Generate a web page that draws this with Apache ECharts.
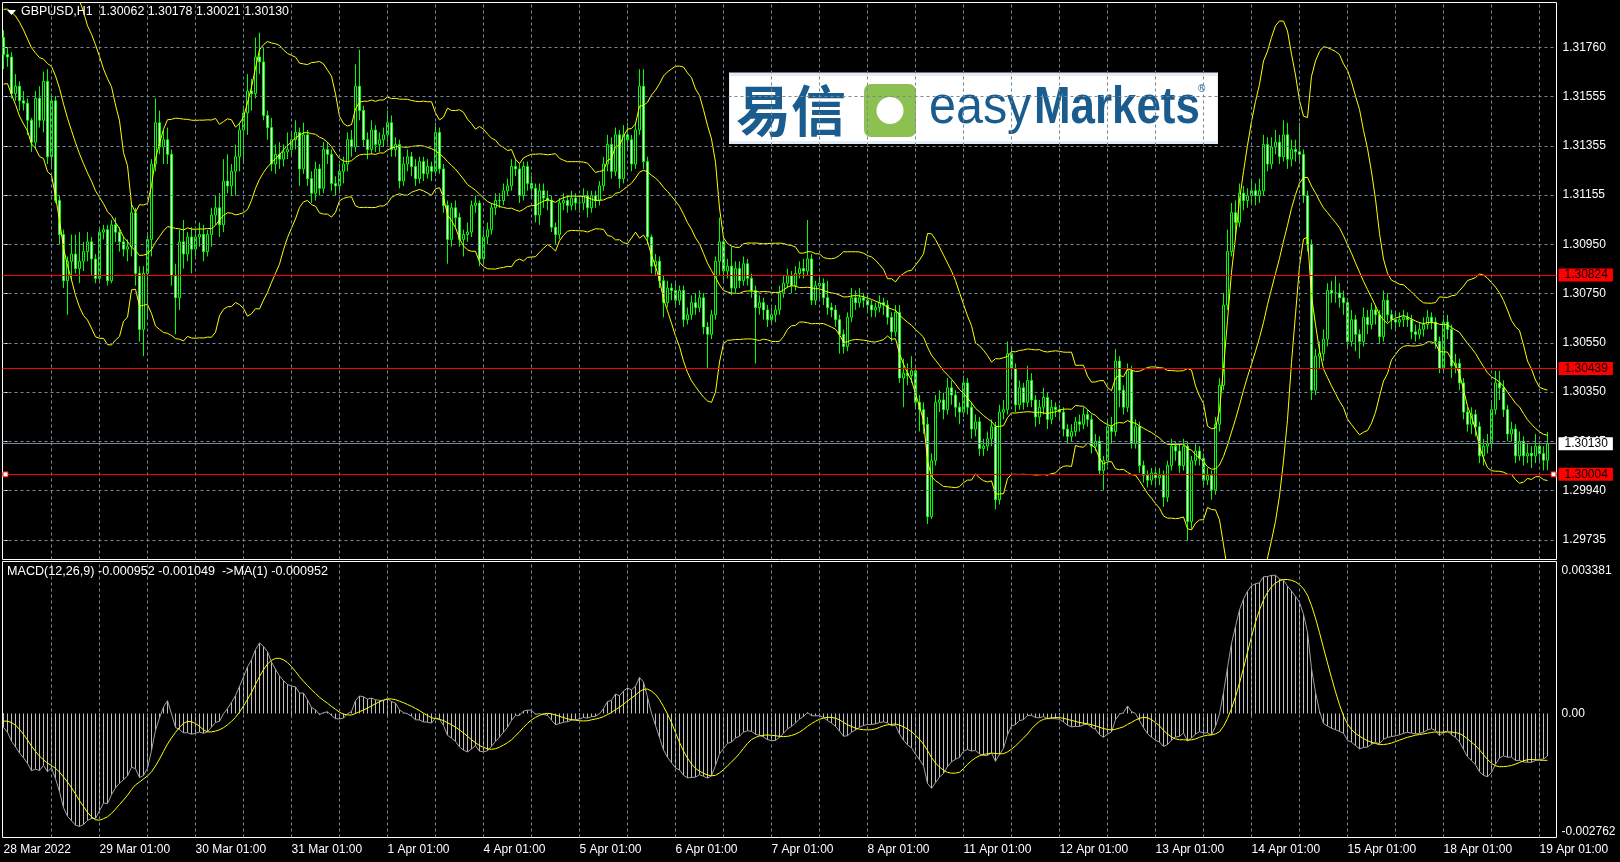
<!DOCTYPE html>
<html><head><meta charset="utf-8">
<script src="https://cdn.jsdelivr.net/npm/echarts/dist/echarts.min.js"></script>
<style>html,body{margin:0;padding:0;background:#000;overflow:hidden}#c{width:1620px;height:862px}</style>
</head><body><div id="c"></div>
<script>
const symbolTitle = 'GBPUSD,H1  1.30062 1.30178 1.30021 1.30130';
const macdTitle = 'MACD(12,26,9) -0.000952 -0.001049  ->MA(1) -0.000952';
const xTickBars = [0,24,48,72,96,120,144,168,192,216,240,264,288,312,336,360,384];
const xTickLabels = ['28 Mar 2022','29 Mar 01:00','30 Mar 01:00','31 Mar 01:00','1 Apr 01:00','4 Apr 01:00','5 Apr 01:00','6 Apr 01:00','7 Apr 01:00','8 Apr 01:00','11 Apr 01:00','12 Apr 01:00','13 Apr 01:00','14 Apr 01:00','15 Apr 01:00','18 Apr 01:00','19 Apr 01:00'];
const xGridBars = [12,24,36,48,60,72,84,96,108,120,132,144,156,168,180,192,204,216,228,240,252,264,276,288,300,312,324,336,348,360,372,384];
const priceTickValues = [1.31760,1.315575,1.31355,1.311525,1.30950,1.307475,1.30545,1.303425,1.30140,1.299375,1.29735];
const priceTickLabels = ['1.31760','1.31555','1.31355','1.31155','1.30950','1.30750','1.30550','1.30350','1.30145','1.29940','1.29735'];
const priceRange = [1.296539, 1.319442];
const redLevels = [1.30824, 1.30439, 1.30004];
const lastPrice = 1.30130;
const macdRange = [-0.002762, 0.003381];
const macdTickValues = [0.003381, 0, -0.002762];
const macdTickLabels = ['0.003381', '0.00', '-0.002762'];
// closes before the first visible bar (not drawn), estimated from band and MACD levels at the left edge
const warmupCloses = [1.3192,1.3196,1.3199,1.3195,1.3190,1.3186,1.3189,1.3194,1.3198,1.3202,1.3199,1.3195,1.3197,1.3200,
1.3204,1.3214,1.3220,1.3210,1.3198,1.3187,1.3177,1.3171,1.3181,1.3193,1.3205,1.3216,1.3221,1.3209,1.3197,1.3185,1.3174,1.3168,1.3178,1.3190,1.3201,1.3210,1.3204,1.3193,1.3185,1.3179];
// hourly candles [open, close, low, high], 28 Mar 01:00 .. 19 Apr 03:00
const candles = [
[1.3180,1.3173,1.3167,1.3183],[1.3173,1.3172,1.3168,1.3176],[1.3172,1.3157,1.3155,1.3174],[1.3157,1.3160,1.3154,1.3165],
[1.3160,1.3154,1.3150,1.3162],[1.3154,1.3153,1.3150,1.3158],[1.3153,1.3146,1.3140,1.3155],[1.3146,1.3137,1.3133,1.3147],
[1.3137,1.3155,1.3134,1.3158],[1.3155,1.3146,1.3143,1.3160],[1.3146,1.3162,1.3141,1.3166],[1.3162,1.3131,1.3128,1.3167],
[1.3131,1.3154,1.3126,1.3157],[1.3154,1.3113,1.3112,1.3156],[1.3113,1.3099,1.3095,1.3115],[1.3099,1.3080,1.3077,1.3101],
[1.3080,1.3088,1.3066,1.3090],[1.3088,1.3091,1.3080,1.3099],[1.3091,1.3085,1.3083,1.3099],[1.3085,1.3088,1.3079,1.3100],
[1.3088,1.3092,1.3084,1.3096],[1.3092,1.3096,1.3088,1.3100],[1.3096,1.3089,1.3082,1.3098],[1.3089,1.3081,1.3079,1.3091],
[1.3081,1.3100,1.3080,1.3102],[1.3100,1.3101,1.3097,1.3103],[1.3101,1.3080,1.3078,1.3103],[1.3080,1.3103,1.3079,1.3105],
[1.3103,1.3100,1.3096,1.3106],[1.3100,1.3096,1.3092,1.3102],[1.3096,1.3093,1.3090,1.3098],[1.3093,1.3094,1.3088,1.3097],
[1.3094,1.3108,1.3090,1.3112],[1.3108,1.3083,1.3078,1.3110],[1.3083,1.3060,1.3055,1.3086],[1.3060,1.3083,1.3049,1.3086],
[1.3083,1.3097,1.3064,1.3100],[1.3097,1.3128,1.3090,1.3130],[1.3128,1.3145,1.3125,1.3155],[1.3145,1.3135,1.3132,1.3150],
[1.3135,1.3138,1.3128,1.3142],[1.3138,1.3132,1.3128,1.3143],[1.3132,1.3082,1.3078,1.3134],[1.3082,1.3073,1.3058,1.3087],
[1.3073,1.3096,1.3068,1.3101],[1.3096,1.3091,1.3085,1.3105],[1.3091,1.3098,1.3088,1.3100],[1.3098,1.3093,1.3083,1.3102],
[1.3093,1.3098,1.3090,1.3101],[1.3098,1.3099,1.3094,1.3104],[1.3099,1.3092,1.3088,1.3103],[1.3092,1.3099,1.3090,1.3101],
[1.3099,1.3107,1.3094,1.3110],[1.3107,1.3110,1.3103,1.3115],[1.3110,1.3103,1.3098,1.3116],[1.3103,1.3121,1.3100,1.3130],
[1.3121,1.3119,1.3116,1.3132],[1.3119,1.3125,1.3115,1.3128],[1.3125,1.3131,1.3115,1.3136],[1.3131,1.3142,1.3125,1.3145],
[1.3142,1.3149,1.3128,1.3152],[1.3149,1.3158,1.3140,1.3165],[1.3158,1.3157,1.3150,1.3163],[1.3157,1.3172,1.3155,1.3180],
[1.3172,1.3170,1.3165,1.3182],[1.3170,1.3148,1.3146,1.3176],[1.3148,1.3143,1.3138,1.3150],[1.3143,1.3128,1.3125,1.3147],
[1.3128,1.3132,1.3124,1.3136],[1.3132,1.3130,1.3126,1.3137],[1.3130,1.3133,1.3127,1.3136],[1.3133,1.3134,1.3130,1.3141],
[1.3134,1.3138,1.3131,1.3141],[1.3138,1.3141,1.3134,1.3146],[1.3141,1.3126,1.3119,1.3143],[1.3126,1.3140,1.3124,1.3145],
[1.3140,1.3122,1.3119,1.3142],[1.3122,1.3116,1.3112,1.3125],[1.3116,1.3126,1.3113,1.3129],[1.3126,1.3118,1.3115,1.3128],
[1.3118,1.3134,1.3116,1.3137],[1.3134,1.3132,1.3128,1.3137],[1.3132,1.3120,1.3117,1.3134],[1.3120,1.3119,1.3115,1.3123],
[1.3119,1.3125,1.3116,1.3128],[1.3125,1.3128,1.3120,1.3131],[1.3128,1.3138,1.3125,1.3141],[1.3138,1.3135,1.3131,1.3142],
[1.3135,1.3160,1.3133,1.3169],[1.3160,1.3150,1.3146,1.3175],[1.3150,1.3138,1.3135,1.3152],[1.3138,1.3134,1.3130,1.3141],
[1.3134,1.3142,1.3132,1.3146],[1.3142,1.3136,1.3133,1.3144],[1.3136,1.3138,1.3133,1.3141],[1.3138,1.3140,1.3135,1.3143],
[1.3140,1.3145,1.3137,1.3150],[1.3145,1.3134,1.3131,1.3148],[1.3134,1.3136,1.3131,1.3139],[1.3136,1.3121,1.3118,1.3138],
[1.3121,1.3128,1.3119,1.3131],[1.3128,1.3131,1.3125,1.3134],[1.3131,1.3127,1.3123,1.3133],[1.3127,1.3122,1.3119,1.3130],
[1.3122,1.3129,1.3120,1.3131],[1.3129,1.3124,1.3121,1.3131],[1.3124,1.3127,1.3122,1.3130],[1.3127,1.3125,1.3121,1.3129],
[1.3125,1.3141,1.3123,1.3145],[1.3141,1.3126,1.3124,1.3143],[1.3126,1.3111,1.3108,1.3128],[1.3111,1.3097,1.3087,1.3113],
[1.3097,1.3110,1.3094,1.3112],[1.3110,1.3106,1.3102,1.3113],[1.3106,1.3097,1.3094,1.3108],[1.3097,1.3099,1.3090,1.3101],
[1.3099,1.3100,1.3096,1.3104],[1.3100,1.3111,1.3098,1.3113],[1.3111,1.3112,1.3108,1.3115],[1.3112,1.3089,1.3086,1.3113],
[1.3089,1.3098,1.3087,1.3101],[1.3098,1.3101,1.3095,1.3104],[1.3101,1.3110,1.3099,1.3112],[1.3110,1.3113,1.3107,1.3116],
[1.3113,1.3113,1.3110,1.3116],[1.3113,1.3117,1.3111,1.3120],[1.3117,1.3119,1.3115,1.3122],[1.3119,1.3127,1.3117,1.3130],
[1.3127,1.3126,1.3123,1.3130],[1.3126,1.3115,1.3112,1.3128],[1.3115,1.3127,1.3113,1.3129],[1.3127,1.3120,1.3117,1.3129],
[1.3120,1.3118,1.3114,1.3123],[1.3118,1.3107,1.3104,1.3120],[1.3107,1.3117,1.3103,1.3120],[1.3117,1.3114,1.3110,1.3120],
[1.3114,1.3113,1.3109,1.3117],[1.3113,1.3102,1.3100,1.3115],[1.3102,1.3099,1.3095,1.3104],[1.3099,1.3112,1.3097,1.3114],
[1.3112,1.3113,1.3109,1.3116],[1.3113,1.3111,1.3108,1.3115],[1.3111,1.3114,1.3109,1.3117],[1.3114,1.3112,1.3109,1.3116],
[1.3112,1.3112,1.3108,1.3115],[1.3112,1.3115,1.3109,1.3118],[1.3115,1.3110,1.3106,1.3117],[1.3110,1.3115,1.3108,1.3117],
[1.3115,1.3113,1.3110,1.3117],[1.3113,1.3119,1.3111,1.3121],[1.3119,1.3128,1.3117,1.3131],[1.3128,1.3136,1.3125,1.3140],
[1.3136,1.3125,1.3122,1.3139],[1.3125,1.3140,1.3123,1.3143],[1.3140,1.3122,1.3118,1.3142],[1.3122,1.3140,1.3120,1.3144],
[1.3140,1.3138,1.3134,1.3145],[1.3138,1.3128,1.3125,1.3140],[1.3128,1.3142,1.3126,1.3145],[1.3142,1.3160,1.3140,1.3167],
[1.3160,1.3129,1.3126,1.3167],[1.3129,1.3098,1.3095,1.3131],[1.3098,1.3086,1.3083,1.3099],[1.3086,1.3088,1.3082,1.3091],
[1.3088,1.3080,1.3077,1.3090],[1.3080,1.3071,1.3065,1.3082],[1.3071,1.3077,1.3069,1.3080],[1.3077,1.3076,1.3072,1.3079],
[1.3076,1.3072,1.3069,1.3079],[1.3072,1.3076,1.3070,1.3078],[1.3076,1.3064,1.3061,1.3078],[1.3064,1.3066,1.3062,1.3069],
[1.3066,1.3071,1.3064,1.3074],[1.3071,1.3069,1.3066,1.3075],[1.3069,1.3073,1.3067,1.3076],[1.3073,1.3061,1.3058,1.3075],
[1.3061,1.3058,1.3044,1.3063],[1.3058,1.3066,1.3056,1.3068],[1.3066,1.3088,1.3064,1.3090],[1.3088,1.3096,1.3082,1.3106],
[1.3096,1.3084,1.3080,1.3098],[1.3084,1.3086,1.3081,1.3089],[1.3086,1.3077,1.3074,1.3094],[1.3077,1.3085,1.3075,1.3088],
[1.3085,1.3080,1.3077,1.3088],[1.3080,1.3087,1.3078,1.3090],[1.3087,1.3081,1.3078,1.3089],[1.3081,1.3076,1.3073,1.3083],
[1.3076,1.3069,1.3046,1.3078],[1.3069,1.3071,1.3066,1.3074],[1.3071,1.3068,1.3064,1.3073],[1.3068,1.3064,1.3061,1.3070],
[1.3064,1.3066,1.3062,1.3069],[1.3066,1.3068,1.3063,1.3070],[1.3068,1.3075,1.3066,1.3078],[1.3075,1.3079,1.3073,1.3082],
[1.3079,1.3082,1.3077,1.3085],[1.3082,1.3078,1.3075,1.3084],[1.3078,1.3083,1.3076,1.3086],[1.3083,1.3085,1.3081,1.3088],
[1.3085,1.3084,1.3081,1.3089],[1.3084,1.3089,1.3082,1.3105],[1.3089,1.3072,1.3070,1.3091],[1.3072,1.3078,1.3070,1.3080],
[1.3078,1.3079,1.3072,1.3082],[1.3079,1.3073,1.3070,1.3081],[1.3073,1.3069,1.3066,1.3080],[1.3069,1.3068,1.3065,1.3071],
[1.3068,1.3064,1.3061,1.3070],[1.3064,1.3058,1.3050,1.3066],[1.3058,1.3053,1.3050,1.3060],[1.3053,1.3065,1.3051,1.3067],
[1.3065,1.3073,1.3063,1.3077],[1.3073,1.3071,1.3068,1.3076],[1.3071,1.3073,1.3069,1.3077],[1.3073,1.3072,1.3069,1.3075],
[1.3072,1.3070,1.3067,1.3075],[1.3070,1.3068,1.3065,1.3072],[1.3068,1.3069,1.3065,1.3071],[1.3069,1.3071,1.3067,1.3074],
[1.3071,1.3070,1.3066,1.3073],[1.3070,1.3065,1.3062,1.3072],[1.3065,1.3059,1.3055,1.3067],[1.3059,1.3067,1.3057,1.3070],
[1.3067,1.3040,1.3038,1.3070],[1.3040,1.3042,1.3028,1.3048],[1.3042,1.3041,1.3037,1.3046],[1.3041,1.3043,1.3038,1.3049],
[1.3043,1.3030,1.3027,1.3045],[1.3030,1.3027,1.3018,1.3033],[1.3027,1.3021,1.3017,1.3030],[1.3021,1.2983,1.2980,1.3024],
[1.2983,1.3006,1.2982,1.3009],[1.3006,1.3030,1.3004,1.3033],[1.3030,1.3031,1.3026,1.3035],[1.3031,1.3027,1.3023,1.3034],
[1.3027,1.3036,1.3025,1.3040],[1.3036,1.3033,1.3029,1.3039],[1.3033,1.3028,1.3024,1.3035],[1.3028,1.3026,1.3021,1.3030],
[1.3026,1.3038,1.3024,1.3041],[1.3038,1.3028,1.3025,1.3040],[1.3028,1.3019,1.3015,1.3030],[1.3019,1.3022,1.3016,1.3025],
[1.3022,1.3011,1.3008,1.3024],[1.3011,1.3012,1.3008,1.3015],[1.3012,1.3015,1.3010,1.3018],[1.3015,1.3020,1.3012,1.3023],
[1.3020,1.2990,1.2986,1.3022],[1.2990,1.3026,1.2988,1.3029],[1.3026,1.3027,1.3023,1.3031],[1.3027,1.3050,1.3025,1.3055],
[1.3050,1.3044,1.3040,1.3053],[1.3044,1.3029,1.3026,1.3046],[1.3029,1.3036,1.3027,1.3039],[1.3036,1.3030,1.3027,1.3038],
[1.3030,1.3039,1.3028,1.3045],[1.3039,1.3031,1.3028,1.3042],[1.3031,1.3024,1.3020,1.3033],[1.3024,1.3028,1.3021,1.3031],
[1.3028,1.3032,1.3025,1.3036],[1.3032,1.3023,1.3019,1.3034],[1.3023,1.3028,1.3021,1.3031],[1.3028,1.3027,1.3024,1.3030],
[1.3027,1.3026,1.3023,1.3029],[1.3026,1.3019,1.3016,1.3028],[1.3019,1.3016,1.3013,1.3021],[1.3016,1.3018,1.3014,1.3021],
[1.3018,1.3022,1.3016,1.3024],[1.3022,1.3021,1.3018,1.3025],[1.3021,1.3025,1.3019,1.3028],[1.3025,1.3023,1.3020,1.3027],
[1.3023,1.3012,1.3009,1.3025],[1.3012,1.3014,1.3010,1.3017],[1.3014,1.3002,1.3000,1.3016],[1.3002,1.3006,1.2994,1.3008],
[1.3006,1.3020,1.3004,1.3023],[1.3020,1.3018,1.3013,1.3024],[1.3018,1.3047,1.3016,1.3052],[1.3047,1.3035,1.3028,1.3049],
[1.3035,1.3028,1.3025,1.3037],[1.3028,1.3043,1.3026,1.3046],[1.3043,1.3013,1.3011,1.3045],[1.3013,1.3020,1.3011,1.3023],
[1.3020,1.3004,1.3001,1.3022],[1.3004,1.3000,1.2997,1.3006],[1.3000,1.2998,1.2995,1.3002],[1.2998,1.3001,1.2996,1.3003],
[1.3001,1.2999,1.2996,1.3003],[1.2999,1.3000,1.2996,1.3003],[1.3000,1.2991,1.2987,1.3002],[1.2991,1.3004,1.2989,1.3006],
[1.3004,1.3012,1.3002,1.3015],[1.3012,1.3010,1.3006,1.3014],[1.3010,1.3004,1.3001,1.3013],[1.3004,1.3012,1.3002,1.3015],
[1.3012,1.2981,1.2973,1.3014],[1.2981,1.3006,1.2978,1.3008],[1.3006,1.3010,1.3004,1.3013],[1.3010,1.3007,1.3004,1.3012],
[1.3007,1.2998,1.2995,1.3009],[1.2998,1.3000,1.2996,1.3003],[1.3000,1.2994,1.2990,1.3002],[1.2994,1.3021,1.2992,1.3024],
[1.3021,1.3037,1.3018,1.3040],[1.3037,1.3070,1.3035,1.3075],[1.3070,1.3092,1.3068,1.3101],[1.3092,1.3108,1.3090,1.3112],
[1.3108,1.3104,1.3097,1.3113],[1.3104,1.3116,1.3102,1.3120],[1.3116,1.3113,1.3109,1.3119],[1.3113,1.3115,1.3110,1.3118],
[1.3115,1.3117,1.3112,1.3121],[1.3117,1.3115,1.3111,1.3120],[1.3115,1.3117,1.3112,1.3122],[1.3117,1.3136,1.3115,1.3140],
[1.3136,1.3128,1.3125,1.3139],[1.3128,1.3135,1.3126,1.3139],[1.3135,1.3137,1.3132,1.3142],[1.3137,1.3131,1.3128,1.3140],
[1.3131,1.3140,1.3129,1.3146],[1.3140,1.3130,1.3126,1.3145],[1.3130,1.3134,1.3127,1.3138],[1.3134,1.3133,1.3129,1.3138],
[1.3133,1.3132,1.3128,1.3145],[1.3132,1.3115,1.3112,1.3134],[1.3115,1.3095,1.3092,1.3117],[1.3095,1.3035,1.3031,1.3097],
[1.3035,1.3049,1.3033,1.3052],[1.3049,1.3050,1.3044,1.3055],[1.3050,1.3056,1.3047,1.3060],[1.3056,1.3076,1.3053,1.3079],
[1.3076,1.3075,1.3071,1.3080],[1.3075,1.3075,1.3071,1.3082],[1.3075,1.3073,1.3069,1.3079],[1.3073,1.3071,1.3066,1.3076],
[1.3071,1.3055,1.3052,1.3073],[1.3055,1.3064,1.3053,1.3068],[1.3064,1.3058,1.3051,1.3066],[1.3058,1.3055,1.3048,1.3060],
[1.3055,1.3065,1.3053,1.3069],[1.3065,1.3062,1.3058,1.3068],[1.3062,1.3068,1.3060,1.3071],[1.3068,1.3066,1.3062,1.3070],
[1.3066,1.3057,1.3054,1.3068],[1.3057,1.3072,1.3055,1.3076],[1.3072,1.3066,1.3063,1.3075],[1.3066,1.3064,1.3060,1.3068],
[1.3064,1.3063,1.3060,1.3067],[1.3063,1.3064,1.3061,1.3067],[1.3064,1.3065,1.3061,1.3068],[1.3065,1.3064,1.3061,1.3067],
[1.3064,1.3059,1.3056,1.3066],[1.3059,1.3058,1.3055,1.3062],[1.3058,1.3060,1.3056,1.3063],[1.3060,1.3062,1.3057,1.3065],
[1.3062,1.3065,1.3060,1.3068],[1.3065,1.3063,1.3060,1.3067],[1.3063,1.3055,1.3052,1.3065],[1.3055,1.3044,1.3042,1.3057],
[1.3044,1.3063,1.3042,1.3066],[1.3063,1.3060,1.3056,1.3066],[1.3060,1.3045,1.3040,1.3062],[1.3045,1.3046,1.3042,1.3050],
[1.3046,1.3038,1.3035,1.3048],[1.3038,1.3026,1.3023,1.3040],[1.3026,1.3021,1.3018,1.3028],[1.3021,1.3025,1.3017,1.3028],
[1.3025,1.3020,1.3016,1.3027],[1.3020,1.3008,1.3005,1.3022],[1.3008,1.3012,1.3004,1.3015],[1.3012,1.3013,1.3009,1.3017],
[1.3013,1.3027,1.3011,1.3031],[1.3027,1.3038,1.3025,1.3043],[1.3038,1.3036,1.3031,1.3043],[1.3036,1.3027,1.3024,1.3039],
[1.3027,1.3017,1.3014,1.3029],[1.3017,1.3019,1.3014,1.3022],[1.3019,1.3008,1.3005,1.3021],[1.3008,1.3014,1.3006,1.3018],
[1.3014,1.3008,1.3004,1.3016],[1.3008,1.3009,1.3005,1.3013],[1.3009,1.3008,1.3003,1.3012],[1.3008,1.3012,1.3005,1.3017],
[1.3012,1.3009,1.3005,1.3014],[1.3009,1.30062,1.3002,1.3012],[1.30062,1.30130,1.30021,1.30178]
];

const FONT = '"Liberation Sans", Arial, sans-serif';
function nearestIndex(arr, v){ let b = 0; for (let i = 1; i < arr.length; i++) if (Math.abs(arr[i]-v) < Math.abs(arr[b]-v)) b = i; return b; }

// indicators computed from closes (Bollinger 20,2 and MACD 12,26,9)
const W = warmupCloses.length;
const allC = warmupCloses.concat(candles.map(c => c[1]));
function ema(a, n){ const k = 2/(n+1); const out = []; let e = a[0]; for (let i = 0; i < a.length; i++){ e = i === 0 ? a[0] : a[i]*k + e*(1-k); out.push(e);} return out; }
const e12 = ema(allC, 12), e26 = ema(allC, 26);
const macdAll = allC.map((v, i) => e12[i] - e26[i]);
const bbMid = [], bbUp = [], bbLo = [], macdBars = [], macdLine = [], sigLine = [];
for (let i = W; i < allC.length; i++){
  let s = 0; for (let j = i-19; j <= i; j++) s += allC[j];
  const m = s/20; let v = 0; for (let j = i-19; j <= i; j++) v += (allC[j]-m)*(allC[j]-m);
  const sd = Math.sqrt(v/20);
  bbMid.push([i-W, m]); bbUp.push([i-W, m+2*sd]); bbLo.push([i-W, m-2*sd]);
  let ss = 0; for (let j = i-8; j <= i; j++) ss += macdAll[j];
  macdBars.push([i-W, macdAll[i]]); macdLine.push([i-W, macdAll[i]]); sigLine.push([i-W, ss/9]);
}
const ohlc = candles.map((c, i) => [i, c[0], c[1], c[2], c[3]]);

const gridDash = {color: '#778899', type: [3, 3], width: 1};
const xMin = -0.25, xMax = 388.25;

const chart = echarts.init(document.getElementById('c'), null, {renderer: 'canvas'});
const option = {
  backgroundColor: '#000',
  animation: false,
  textStyle: {fontFamily: FONT},
  grid: [
    {left: 2.5, top: 2.5, width: 1554, height: 557, show: true, borderColor: '#ffffff', borderWidth: 1},
    {left: 2.5, top: 561.5, width: 1554, height: 276, show: true, borderColor: '#ffffff', borderWidth: 1}
  ],
  xAxis: [
    {type: 'value', gridIndex: 0, min: xMin, max: xMax, show: false},
    {type: 'value', gridIndex: 1, min: xMin, max: xMax, position: 'bottom',
     axisLine: {show: false}, splitLine: {show: false},
     axisTick: {show: true, customValues: xTickBars, length: 4, lineStyle: {color: '#ffffff'}},
     axisLabel: {show: true, customValues: xTickBars, align: 'left', color: '#ffffff', fontSize: 12, fontFamily: FONT, margin: 6,
       formatter: v => xTickLabels[nearestIndex(xTickBars, v)]}}
  ],
  yAxis: [
    {type: 'value', gridIndex: 0, position: 'right', min: priceRange[0], max: priceRange[1],
     axisLine: {show: false}, splitLine: {show: false},
     axisTick: {show: true, customValues: priceTickValues, length: 4, lineStyle: {color: '#ffffff'}},
     axisLabel: {customValues: priceTickValues, color: '#ffffff', fontSize: 12, fontFamily: FONT, margin: 6,
       formatter: v => priceTickLabels[nearestIndex(priceTickValues, v)]}},
    {type: 'value', gridIndex: 1, position: 'right', min: macdRange[0], max: macdRange[1],
     axisLine: {show: false}, splitLine: {show: false}, axisTick: {show: false},
     axisLabel: {customValues: macdTickValues, color: '#ffffff', fontSize: 12, fontFamily: FONT, margin: 5,
       formatter: v => { const i = nearestIndex(macdTickValues, v); const s = macdTickLabels[i];
         return i === 0 ? '{t|' + s + '}' : (i === 2 ? '{b|' + s + '}' : s); },
       rich: {t: {padding: [18, 0, 0, 0], color: '#ffffff', fontSize: 12, fontFamily: FONT},
              b: {padding: [0, 0, 12, 0], color: '#ffffff', fontSize: 12, fontFamily: FONT}}}}
  ],
  series: [
    {name: 'grid0', type: 'line', xAxisIndex: 0, yAxisIndex: 0, data: [], z: 1, silent: true,
     markLine: {symbol: 'none', silent: true, animation: false, precision: 10, label: {show: false}, lineStyle: gridDash,
       data: priceTickValues.map(v => ({yAxis: v})).concat(xGridBars.map(b => ({xAxis: b})))}},
    {name: 'grid1', type: 'line', xAxisIndex: 1, yAxisIndex: 1, data: [], z: 1, silent: true,
     markLine: {symbol: 'none', silent: true, animation: false, precision: 10, label: {show: false}, lineStyle: gridDash,
       data: xGridBars.map(b => ({xAxis: b}))}},
    {name: 'GBPUSD', type: 'candlestick', xAxisIndex: 0, yAxisIndex: 0, data: ohlc, encode: {x: 0, y: [1, 2, 3, 4]},
     barWidth: 2, z: 3, silent: true, clip: true,
     itemStyle: {color: '#000000', color0: '#ffffff', borderColor: '#00ff00', borderColor0: '#00ff00', borderWidth: 1}},
    {name: 'bbUp', type: 'line', xAxisIndex: 0, yAxisIndex: 0, data: bbUp, showSymbol: false, z: 4, silent: true, lineStyle: {color: '#ffff00', width: 1}},
    {name: 'bbMid', type: 'line', xAxisIndex: 0, yAxisIndex: 0, data: bbMid, showSymbol: false, z: 4, silent: true, lineStyle: {color: '#ffff00', width: 1}},
    {name: 'bbLo', type: 'line', xAxisIndex: 0, yAxisIndex: 0, data: bbLo, showSymbol: false, z: 4, silent: true, lineStyle: {color: '#ffff00', width: 1}},
    {name: 'levels', type: 'line', xAxisIndex: 0, yAxisIndex: 0, data: [], z: 5, silent: true,
     markLine: {symbol: 'none', silent: true, animation: false, precision: 10,
       data: redLevels.map(v => ({yAxis: v, lineStyle: {color: '#ff0000', width: 1, type: 'solid'},
         label: {show: true, position: 'end', distance: 2, formatter: v.toFixed(5), backgroundColor: '#ff0000', color: '#000000',
                 padding: [1, 5, 0, 6], fontSize: 12, fontFamily: FONT}}))
         .concat([{yAxis: lastPrice, lineStyle: {color: '#778899', width: 1, type: 'solid'},
           label: {show: true, position: 'end', distance: 2, formatter: lastPrice.toFixed(5), backgroundColor: '#ffffff', color: '#000000',
                   padding: [1, 5, 0, 6], fontSize: 12, fontFamily: FONT}}])},
     markPoint: {silent: true, animation: false, symbol: 'rect', symbolSize: 5, label: {show: false},
       itemStyle: {color: '#ffffff', borderColor: '#ff0000', borderWidth: 1},
       data: [{coord: [0.5, redLevels[2]]}, {coord: [387.5, redLevels[2]]}]}},
    {name: 'MACD', type: 'bar', xAxisIndex: 1, yAxisIndex: 1, data: macdBars, barWidth: 1, z: 2, silent: true,
     itemStyle: {color: '#c0c0c0'}},
    {name: 'MA1', type: 'line', xAxisIndex: 1, yAxisIndex: 1, data: macdLine, showSymbol: false, z: 3, silent: true,
     lineStyle: {color: '#a0a0a0', width: 1}},
    {name: 'Signal', type: 'line', xAxisIndex: 1, yAxisIndex: 1, data: sigLine, showSymbol: false, z: 4, silent: true,
     lineStyle: {color: '#ffff00', width: 1}}
  ],
  graphic: [
    {type: 'polygon', shape: {points: [[7, 10], [16, 10], [11.5, 15]]}, style: {fill: '#ffffff'}, z: 100},
    {type: 'text', left: 21, top: 6, z: 100, style: {text: symbolTitle, fill: '#ffffff', font: '12.4px ' + FONT}},
    {type: 'text', left: 7, top: 565, z: 100, style: {text: macdTitle, fill: '#ffffff', font: '12.6px ' + FONT}},
    {type: 'group', z: 90, children: [
      {type: 'rect', shape: {x: 729, y: 72.5, width: 489, height: 71.5}, style: {fill: '#e3ebf4'}},
      {type: 'rect', shape: {x: 730, y: 76, width: 487, height: 65}, style: {fill: '#ffffff'}},
      {type: 'text', x: 736, y: 110, style: {text: '易信', font: 'bold 55px "Noto Sans CJK SC"', fill: '#1b5c8e', verticalAlign: 'middle'}},
      {type: 'rect', shape: {x: 864, y: 84, width: 52, height: 53, r: 7}, style: {fill: '#8cc152'}},
      {type: 'circle', shape: {cx: 890, cy: 110.5, r: 13.5}, style: {fill: '#ffffff'}},
      {type: 'text', x: 929, y: 108.5, scaleX: 0.95, style: {text: 'easy', font: '51px ' + FONT, fill: '#1b5c8e', verticalAlign: 'middle'}},
      {type: 'text', x: 1034, y: 108.5, scaleX: 0.86, style: {text: 'Markets', font: 'bold 51px ' + FONT, fill: '#1b5c8e', verticalAlign: 'middle'}},
      {type: 'text', x: 1198, y: 89, style: {text: '®', font: '10px ' + FONT, fill: '#1b5c8e', verticalAlign: 'middle'}}
    ]}
  ]
};
chart.setOption(option);
</script>
</body></html>
